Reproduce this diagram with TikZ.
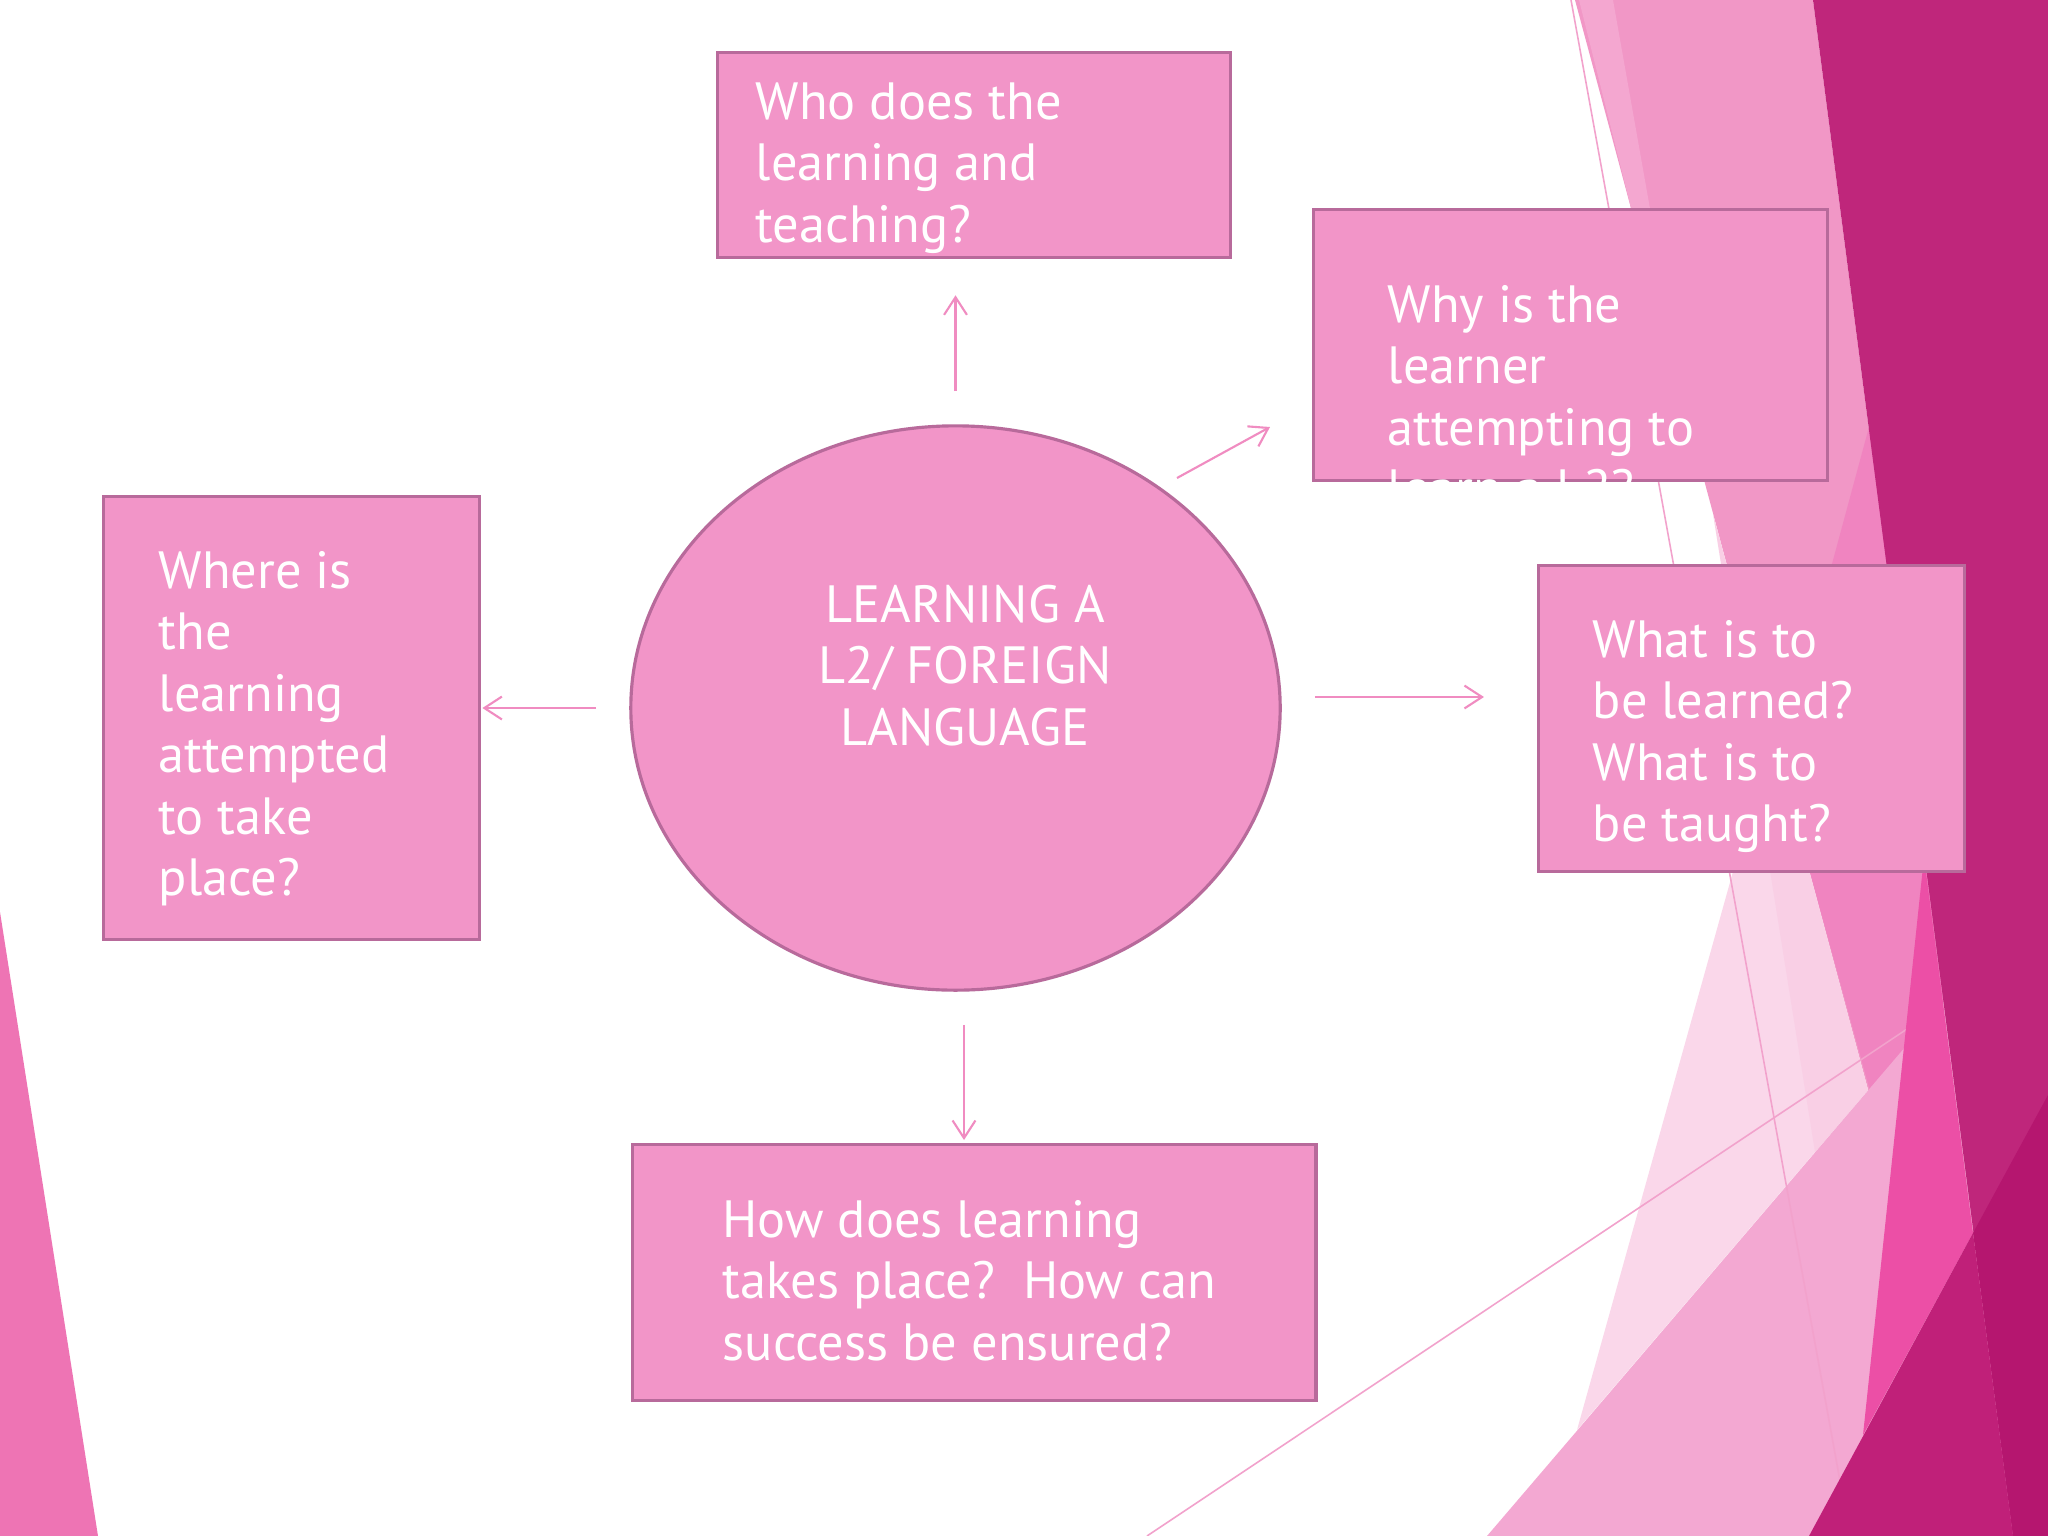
\documentclass[tikz,border=0pt]{standalone}
\usepackage{fontspec}
\setmainfont{PT Sans}
\usetikzlibrary{arrows.meta,shapes.geometric}
\definecolor{boxfill}{HTML}{F295C8}
\definecolor{boxline}{HTML}{B86A9B}
\definecolor{arrowc}{HTML}{F08CC1}
\definecolor{bgband}{HTML}{F197C6}
\definecolor{bgbandlight}{HTML}{F4A7D0}
\definecolor{bgdark}{HTML}{BF267B}
\definecolor{bgdarker}{HTML}{B5166F}
\definecolor{bgdarkbot}{HTML}{C02079}
\definecolor{bgmed}{HTML}{F084C0}
\definecolor{bglight}{HTML}{FAD7EA}
\definecolor{bgstrip}{HTML}{F9CFE5}
\definecolor{bgbig}{HTML}{F3A8D2}
\definecolor{bghot}{HTML}{EC4FA6}
\definecolor{bgleft}{HTML}{EE74B4}
\definecolor{bgline}{HTML}{F2A2CC}
\begin{document}
\begin{tikzpicture}[x=0.01cm,y=-0.01cm,
  qbox/.style={draw=boxline, line width=0.9pt, fill=boxfill, inner sep=0pt, anchor=north west},
  qell/.style={ellipse, draw=boxline, line width=0.9pt, fill=boxfill, inner sep=0pt},
  qtext/.style={text=white, inner sep=0pt, anchor=base west, font=\fontsize{14.9}{17.5}\selectfont},
  qctext/.style={text=white, inner sep=0pt, anchor=base, font=\fontsize{14.9}{17.5}\selectfont},
  qarrow/.style={draw=arrowc, line width=0.6pt, -{Straight Barb[length=5pt,width=6.5pt]}},
  bgthin/.style={draw=bgline, line width=0.45pt}]
\useasboundingbox (0,0) rectangle (2048,1536);
\fill[white] (0,0) rectangle (2048,1536);
% background facets
\fill[bgleft] (0,912) -- (98,1536) -- (0,1536) -- cycle;
\fill[bgband] (1575,0) -- (1813,0) -- (2013,1536) -- (1988,1536) -- cycle;
\fill[bgbandlight] (1579,0) -- (1613,0) -- (1652,220) -- (1634,220) -- cycle;
\fill[bgmed] (1869,427) -- (1779,760) -- (1900,1200) -- (2000,1200) -- (1960,700) -- cycle;
\fill[bglight] (1772,732) -- (1868,1090) -- (1577,1430) -- cycle;
\fill[bgstrip] (1713,514) -- (1868,1090) -- (1815,1152) -- cycle;
\fill[bgbig] (2048,880) -- (2048,1536) -- (1487,1536) -- cycle;
\draw[bgthin] (1571,0) -- (1850,1536);
\draw[bgthin] (1147,1536) -- (1925,1017);
\fill[bghot] (1924,857) -- (1973,1233) -- (1863,1435) -- cycle;
\fill[bgdark] (1813,0) -- (2048,0) -- (2048,1536) -- (2013,1536) -- cycle;
\fill[bgdarker] (2048,1095) -- (2048,1536) -- (2013,1536) -- (1973,1233) -- cycle;
\fill[bgdarkbot] (1973,1233) -- (2013,1536) -- (1809,1536) -- cycle;
% boxes
\node[qbox, minimum width=5.13cm, minimum height=2.05cm] (who) at (716,51) {};
\node[qbox, minimum width=5.14cm, minimum height=2.71cm] (why) at (1312,208) {};
\node[qbox, minimum width=4.26cm, minimum height=3.06cm] (what) at (1537,564) {};
\node[qbox, minimum width=3.76cm, minimum height=4.43cm] (where) at (102,495) {};
\node[qbox, minimum width=6.83cm, minimum height=2.56cm] (bot) at (631,1143) {};
\node[qell, minimum width=6.49cm, minimum height=5.64cm] (ell) at (955.5,708) {};
% texts
\node[qtext] (twho) at (755,119) {\vtop{\hbox{Who does the}\hbox{learning and}\hbox{teaching?}}};
\node[qtext] (twhy) at (1387,322) {\vtop{\hbox{Why is the}\hbox{learner}\hbox{attempting to}\hbox{learn a L2?}}};
\node[qtext] (twhat) at (1592,657) {\vtop{\hbox{What is to}\hbox{be learned?}\hbox{What is to}\hbox{be taught?}}};
\node[qtext] (twhere) at (158,588) {\vtop{\hbox{Where is}\hbox{the}\hbox{learning}\hbox{attempted}\hbox{to take}\hbox{place?}}};
\node[qtext] (tbot) at (722,1237) {\vtop{\hbox{How does learning}\hbox{takes place?\ \ How can}\hbox{success be ensured?}}};
\node[qctext] (tell) at (965,622) {\vtop{\hbox to 6cm{\hss LEARNING A\hss}\hbox to 6cm{\hss L2/ FOREIGN\hss}\hbox to 6cm{\hss LANGUAGE\hss}}};
% arrows
\draw[qarrow, shorten <=0.33cm, shorten >=0.36cm] (ell.north) -- (ell.north |- who.south);
\draw[qarrow, shorten <=0.33cm, shorten >=0.01cm] (ell.west) -- (ell.west -| where.east);
\draw[qarrow, shorten <=0.33cm, shorten >=0.53cm] ([yshift=0.11cm]ell.east) -- ([yshift=0.11cm]ell.east -| what.west);
\draw[qarrow, shorten <=0.33cm, shorten >=0.03cm] ([xshift=0.085cm]ell.south) -- ([xshift=0.085cm]ell.south |- bot.north);
\coordinate (d1) at (1177,478);
\coordinate (d2) at (1270,427);
\draw[qarrow] (d1) -- (d2);
\end{tikzpicture}
\end{document}
